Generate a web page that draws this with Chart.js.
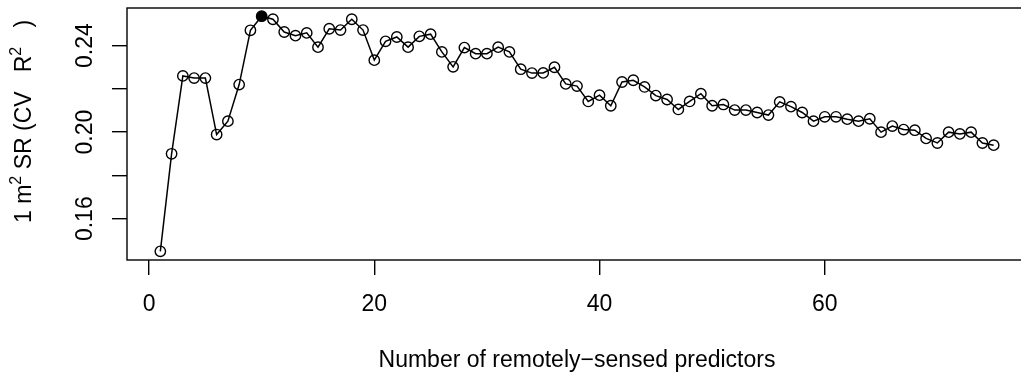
<!DOCTYPE html>
<html>
<head>
<meta charset="utf-8">
<script src="https://cdn.jsdelivr.net/npm/chart.js@4.4.1/dist/chart.umd.min.js"></script>
<style>
  html, body { margin: 0; padding: 0; background: #fff; overflow: hidden; }
  #wrap { width: 1040px; height: 375px; }
</style>
</head>
<body>
<div id="wrap"><canvas id="grafico" width="1040" height="375"></canvas></div>
<script>
// number of predictors kept in the model and the cross-validated R2 at each step
const nPredictors = [
  1, 2, 3, 4, 5, 6, 7, 8, 9, 10, 11, 12, 13, 14, 15, 16, 17, 18, 19, 20,
  21, 22, 23, 24, 25, 26, 27, 28, 29, 30, 31, 32, 33, 34, 35, 36, 37, 38, 39, 40,
  41, 42, 43, 44, 45, 46, 47, 48, 49, 50, 51, 52, 53, 54, 55, 56, 57, 58, 59, 60,
  61, 62, 63, 64, 65, 66, 67, 68, 69, 70, 71, 72, 73, 74, 75
];
const cvR2 = [
  0.1449, 0.1900, 0.2260, 0.2250, 0.2250, 0.1989, 0.2051, 0.2220, 0.2471, 0.2536,
  0.2522, 0.2463, 0.2446, 0.2459, 0.2393, 0.2478, 0.2472, 0.2522, 0.2472, 0.2333,
  0.2420, 0.2440, 0.2393, 0.2443, 0.2453, 0.2371, 0.2302, 0.2391, 0.2363, 0.2363,
  0.2393, 0.2371, 0.2291, 0.2273, 0.2274, 0.2300, 0.2223, 0.2213, 0.2142, 0.2171,
  0.2122, 0.2232, 0.2240, 0.2209, 0.2169, 0.2151, 0.2105, 0.2142, 0.2178, 0.2122,
  0.2128, 0.2102, 0.2102, 0.2091, 0.2079, 0.2140, 0.2118, 0.2091, 0.2051, 0.2071,
  0.2071, 0.2060, 0.2051, 0.2062, 0.2000, 0.2028, 0.2012, 0.2009, 0.1971, 0.1950,
  0.2000, 0.1992, 0.2000, 0.1950, 0.1940
];

const xTicks = [0, 20, 40, 60];
const yTicks = [0.16, 0.18, 0.20, 0.22, 0.24];
const yTickLabels = ['0.16', '', '0.20', '', '0.24'];

const xTitle = 'Number of remotely\u2212sensed predictors';
// y title pieces: [text, superscript?]
const yTitle = [['1 m', false], ['2', true], [' SR (CV   R', false], ['2', true], ['   )', false]];

const fonte = '"Liberation Sans", Arial, Helvetica, sans-serif';

// best model gets a filled point
const best = cvR2.indexOf(Math.max(...cvR2));
const pointFill = cvR2.map((v, i) => i === best ? '#000' : 'rgba(0,0,0,0)');

const pontos = nPredictors.map((n, i) => ({x: n, y: cvR2[i]}));

// box around the plot + rotated y title with superscripts
const moldura = {
  id: 'moldura',
  afterDraw(chart) {
    const ctx = chart.ctx;
    const a = chart.chartArea;
    ctx.save();
    ctx.strokeStyle = '#000';
    ctx.lineWidth = 1.4;
    ctx.strokeRect(a.left, a.top, a.right - a.left, a.bottom - a.top);

    ctx.translate(25, 223);
    ctx.rotate(-Math.PI / 2);
    ctx.fillStyle = '#000';
    ctx.textBaseline = 'middle';
    ctx.textAlign = 'left';
    let pos = 0;
    yTitle.forEach(([txt, sup]) => {
      ctx.font = (sup ? '16px ' : '23px ') + fonte;
      ctx.fillText(txt, pos, sup ? -8 : 0);
      pos += ctx.measureText(txt).width;
    });
    ctx.restore();
  }
};

const ctx = document.getElementById('grafico').getContext('2d');
const grafico = new Chart(ctx, {
  type: 'line',
  data: {
    datasets: [{
      data: pontos,
      borderColor: '#000',
      borderWidth: 1.5,
      pointRadius: 5.2,
      pointBorderWidth: 1.4,
      pointBorderColor: '#000',
      pointBackgroundColor: pointFill,
      tension: 0,
      fill: false
    }]
  },
  options: {
    responsive: false,
    animation: false,
    devicePixelRatio: 1,
    layout: { padding: { top: 8, right: 13, left: 0, bottom: 0 } },
    plugins: { legend: { display: false }, tooltip: { enabled: false } },
    scales: {
      x: {
        type: 'linear',
        min: -1.96,
        max: 77.96,
        afterBuildTicks: s => { s.ticks = xTicks.map(v => ({value: v})); },
        afterFit: s => { s.height = 115; s.paddingLeft = 0; s.paddingRight = 0; },
        border: { display: false },
        grid: { drawOnChartArea: false, drawTicks: true, tickLength: 15, color: '#000', lineWidth: 1.4 },
        ticks: {
          autoSkip: false,
          maxRotation: 0,
          padding: 16,
          color: '#000',
          font: { family: fonte, size: 23 },
          callback: v => String(v)
        },
        title: {
          display: true,
          text: xTitle,
          color: '#000',
          font: { family: fonte, size: 23 },
          padding: { top: 0, bottom: 1 }
        }
      },
      y: {
        type: 'linear',
        min: 0.1409,
        max: 0.2574,
        afterBuildTicks: s => { s.ticks = yTicks.map(v => ({value: v})); },
        afterFit: s => { s.width = 127; s.paddingTop = 0; s.paddingBottom = 0; },
        border: { display: false },
        grid: { drawOnChartArea: false, drawTicks: true, tickLength: 15, color: '#000', lineWidth: 1.4 },
        ticks: {
          autoSkip: false,
          minRotation: 90,
          maxRotation: 90,
          crossAlign: 'center',
          padding: 4,
          color: '#000',
          font: { family: fonte, size: 23 },
          callback: (v, i) => yTickLabels[i]
        }
      }
    }
  },
  plugins: [moldura]
});
</script>
</body>
</html>
